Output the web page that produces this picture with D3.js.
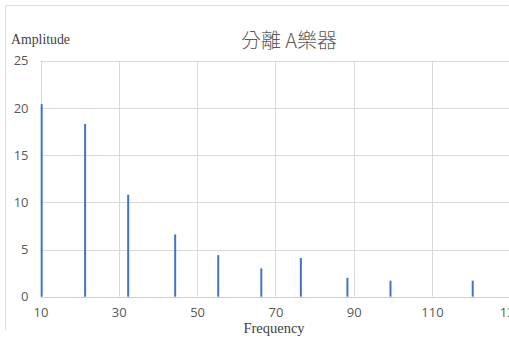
<!DOCTYPE html>
<html>
<head>
<meta charset="utf-8">
<script src="https://cdn.jsdelivr.net/npm/d3@7"></script>
<style>
  html, body { margin: 0; padding: 0; background: #fff; overflow: hidden; }
  svg { display: block; }
</style>
</head>
<body>
<svg id="chart" width="509" height="340"></svg>
<script>
// Spectrum peaks of the separated instrument A
const frequencies = [10.3, 21.4, 32.4, 44.4, 55.4, 66.4, 76.5, 88.4, 99.4, 120.4];
const amplitudes  = [20.4, 18.3, 10.8, 6.6, 4.4, 3.0, 4.1, 2.0, 1.7, 1.7];
const xTicks = [10, 30, 50, 70, 90, 110, 130];
const yTicks = [0, 5, 10, 15, 20, 25];
const titleText = "分離 A樂器";
const xLabel = "Frequency";
const yLabel = "Amplitude";

const svg = d3.select("#chart");
const W = 509, H = 340;
const plot = { left: 40.5, right: 510.3, top: 60.7, bottom: 296.7 };

const x = d3.scaleLinear().domain([10, 130]).range([plot.left, plot.right]);
const y = d3.scaleLinear().domain([0, 25]).range([plot.bottom, plot.top]);

// chart-area frame (left and top edges visible)
svg.append("line").attr("x1", 5.5).attr("x2", 5.5).attr("y1", 5.5).attr("y2", 330)
  .attr("stroke", "#dcdcdc").attr("stroke-width", 1);
svg.append("line").attr("x1", 5.5).attr("x2", W).attr("y1", 5.5).attr("y2", 5.5)
  .attr("stroke", "#dcdcdc").attr("stroke-width", 1);

// gridlines
const grid = svg.append("g");
grid.selectAll("line.h").data(yTicks.filter(d => d > 0)).join("line")
  .attr("x1", plot.left).attr("x2", W)
  .attr("y1", d => Math.round(y(d)) + 0.5).attr("y2", d => Math.round(y(d)) + 0.5)
  .attr("stroke", "#d9d9d9").attr("stroke-width", 1);
grid.selectAll("line.v").data(xTicks).join("line")
  .attr("x1", d => Math.round(x(d)) + 0.5).attr("x2", d => Math.round(x(d)) + 0.5)
  .attr("y1", plot.top).attr("y2", plot.bottom)
  .attr("stroke", "#d9d9d9").attr("stroke-width", 1);

// x axis baseline
svg.append("line").attr("x1", plot.left).attr("x2", W)
  .attr("y1", Math.round(y(0)) + 0.5).attr("y2", Math.round(y(0)) + 0.5)
  .attr("stroke", "#d0d0d0").attr("stroke-width", 1);

// tick labels via d3 axes (lines hidden, text kept)
const xAxis = svg.append("g")
  .attr("transform", `translate(0,${plot.bottom})`)
  .call(d3.axisBottom(x).tickValues(xTicks).tickSize(0).tickPadding(11));
const yAxis = svg.append("g")
  .attr("transform", `translate(${plot.left},0)`)
  .call(d3.axisLeft(y).tickValues(yTicks).tickSize(0).tickPadding(12));
[xAxis, yAxis].forEach(g => {
  g.select(".domain").remove();
  g.selectAll("text")
    .attr("font-family", "'Open Sans', 'Liberation Sans', sans-serif")
    .attr("font-size", 13)
    .attr("fill", "#595959");
});

// spectral lines
svg.append("g").selectAll("line").data(frequencies).join("line")
  .attr("x1", d => x(d)).attr("x2", d => x(d))
  .attr("y1", y(0)).attr("y2", (d, i) => y(amplitudes[i]))
  .attr("stroke", "#4472c4").attr("stroke-width", 2);

// title
svg.append("text").attr("x", 289).attr("y", 48)
  .attr("text-anchor", "middle")
  .attr("font-family", "'Noto Sans CJK TC', 'Noto Sans', sans-serif")
  .attr("font-size", 20).attr("font-weight", 300).attr("fill", "#595959")
  .text(titleText);

// axis titles
svg.append("text").attr("x", 11).attr("y", 44)
  .attr("font-family", "'Liberation Serif', 'DejaVu Serif', serif")
  .attr("font-size", 14).attr("fill", "#404040")
  .attr("textLength", 59).attr("lengthAdjust", "spacingAndGlyphs")
  .text(yLabel);
svg.append("text").attr("x", 274).attr("y", 333)
  .attr("text-anchor", "middle")
  .attr("font-family", "'Liberation Serif', 'DejaVu Serif', serif")
  .attr("font-size", 14.5).attr("fill", "#404040")
  .text(xLabel);
</script>
</body>
</html>
